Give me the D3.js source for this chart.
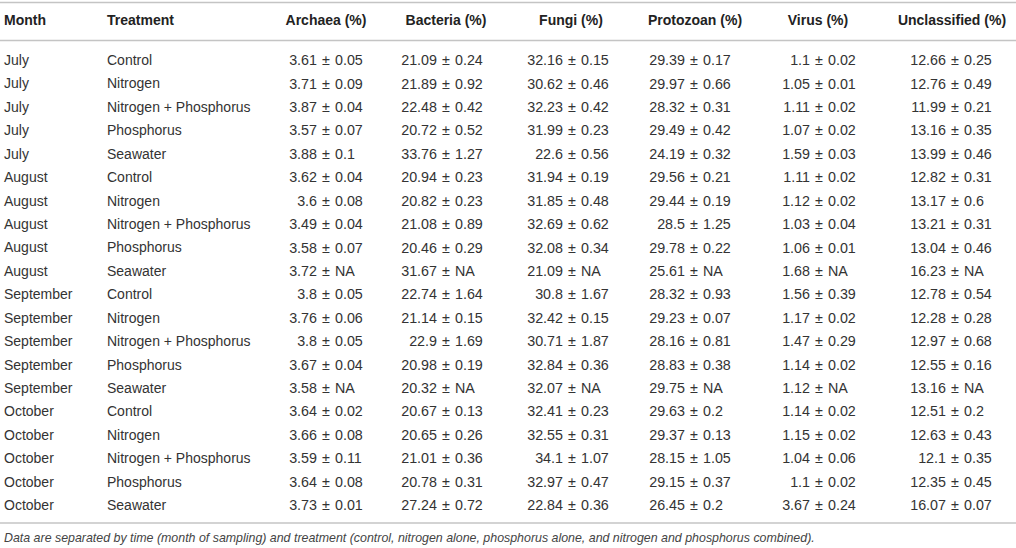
<!DOCTYPE html>
<html>
<head>
<meta charset="utf-8">
<script src="https://cdn.jsdelivr.net/npm/d3@7"></script>
<style>
  body { margin: 0; background: #fff; }
  svg { display: block; font-family: "Liberation Sans", Arial, Helvetica, sans-serif; }
  .cell { font-size: 14px; fill: #333; }
  .num { font-size: 14.3px; fill: #333; }
  .head { font-size: 14px; font-weight: bold; fill: #222; }
  .note { font-size: 12.4px; font-style: italic; fill: #444; }
</style>
</head>
<body>
<div id="chart"></div>
<script>
// --- dati della tabella ---
const headers = ["Month", "Treatment", "Archaea (%)", "Bacteria (%)", "Fungi (%)", "Protozoan (%)", "Virus (%)", "Unclassified (%)"];

const months = ["July", "July", "July", "July", "July",
  "August", "August", "August", "August", "August",
  "September", "September", "September", "September", "September",
  "October", "October", "October", "October", "October"];

const treatments = ["Control", "Nitrogen", "Nitrogen + Phosphorus", "Phosphorus", "Seawater",
  "Control", "Nitrogen", "Nitrogen + Phosphorus", "Phosphorus", "Seawater",
  "Control", "Nitrogen", "Nitrogen + Phosphorus", "Phosphorus", "Seawater",
  "Control", "Nitrogen", "Nitrogen + Phosphorus", "Phosphorus", "Seawater"];

// null = NA
const archaeaMean = [3.61, 3.71, 3.87, 3.57, 3.88, 3.62, 3.6, 3.49, 3.58, 3.72, 3.8, 3.76, 3.8, 3.67, 3.58, 3.64, 3.66, 3.59, 3.64, 3.73];
const archaeaSd = [0.05, 0.09, 0.04, 0.07, 0.1, 0.04, 0.08, 0.04, 0.07, null, 0.05, 0.06, 0.05, 0.04, null, 0.02, 0.08, 0.11, 0.08, 0.01];

const bacteriaMean = [21.09, 21.89, 22.48, 20.72, 33.76, 20.94, 20.82, 21.08, 20.46, 31.67, 22.74, 21.14, 22.9, 20.98, 20.32, 20.67, 20.65, 21.01, 20.78, 27.24];
const bacteriaSd = [0.24, 0.92, 0.42, 0.52, 1.27, 0.23, 0.23, 0.89, 0.29, null, 1.64, 0.15, 1.69, 0.19, null, 0.13, 0.26, 0.36, 0.31, 0.72];

const fungiMean = [32.16, 30.62, 32.23, 31.99, 22.6, 31.94, 31.85, 32.69, 32.08, 21.09, 30.8, 32.42, 30.71, 32.84, 32.07, 32.41, 32.55, 34.1, 32.97, 22.84];
const fungiSd = [0.15, 0.46, 0.42, 0.23, 0.56, 0.19, 0.48, 0.62, 0.34, null, 1.67, 0.15, 1.87, 0.36, null, 0.23, 0.31, 1.07, 0.47, 0.36];

const protozoanMean = [29.39, 29.97, 28.32, 29.49, 24.19, 29.56, 29.44, 28.5, 29.78, 25.61, 28.32, 29.23, 28.16, 28.83, 29.75, 29.63, 29.37, 28.15, 29.15, 26.45];
const protozoanSd = [0.17, 0.66, 0.31, 0.42, 0.32, 0.21, 0.19, 1.25, 0.22, null, 0.93, 0.07, 0.81, 0.38, null, 0.2, 0.13, 1.05, 0.37, 0.2];

const virusMean = [1.1, 1.05, 1.11, 1.07, 1.59, 1.11, 1.12, 1.03, 1.06, 1.68, 1.56, 1.17, 1.47, 1.14, 1.12, 1.14, 1.15, 1.04, 1.1, 3.67];
const virusSd = [0.02, 0.01, 0.02, 0.02, 0.03, 0.02, 0.02, 0.04, 0.01, null, 0.39, 0.02, 0.29, 0.02, null, 0.02, 0.02, 0.06, 0.02, 0.24];

const unclassifiedMean = [12.66, 12.76, 11.99, 13.16, 13.99, 12.82, 13.17, 13.21, 13.04, 16.23, 12.78, 12.28, 12.97, 12.55, 13.16, 12.51, 12.63, 12.1, 12.35, 16.07];
const unclassifiedSd = [0.25, 0.49, 0.21, 0.35, 0.46, 0.31, 0.6, 0.31, 0.46, null, 0.54, 0.28, 0.68, 0.16, null, 0.2, 0.43, 0.35, 0.45, 0.07];

const caption = "Data are separated by time (month of sampling) and treatment (control, nitrogen alone, phosphorus alone, and nitrogen and phosphorus combined).";

// colonne numeriche (media, deviazione)
const valueCols = [
  [archaeaMean, archaeaSd], [bacteriaMean, bacteriaSd], [fungiMean, fungiSd],
  [protozoanMean, protozoanSd], [virusMean, virusSd], [unclassifiedMean, unclassifiedSd]
];

// --- layout ---
const width = 1016, height = 548;
const textX = [4, 107];                        // colonne di testo (allineate a sinistra)
const pmX = [326, 446, 572, 694, 819, 955];    // posizione del segno ± in ogni colonna
const headX = [326, 446, 571, 695, 818, 952];  // centro delle intestazioni
const pmGap = 9;
const headY = 20, firstRowY = 60, lastRowY = 505;
const lineColor = "#c4c4c4";

const svg = d3.select("#chart").append("svg")
  .attr("width", width)
  .attr("height", height);

const y = d3.scaleLinear()
  .domain([0, months.length - 1])
  .range([firstRowY, lastRowY]);

// linee orizzontali
[2.5, 40.5, 523].forEach(ly => {
  svg.append("line")
    .attr("x1", 0).attr("x2", width)
    .attr("y1", ly).attr("y2", ly)
    .attr("stroke", lineColor)
    .attr("stroke-width", 1.5);
});

// intestazione
svg.selectAll(".head")
  .data(headers)
  .enter().append("text")
  .attr("class", "head")
  .attr("x", (d, i) => i < 2 ? textX[i] : headX[i - 2])
  .attr("y", headY)
  .attr("dy", "0.36em")
  .attr("text-anchor", (d, i) => i < 2 ? "start" : "middle")
  .text(d => d);

// colonne di testo
[months, treatments].forEach((col, c) => {
  svg.selectAll(".txt" + c)
    .data(col)
    .enter().append("text")
    .attr("class", "cell txt" + c)
    .attr("x", textX[c])
    .attr("y", (d, i) => y(i))
    .attr("dy", "0.36em")
    .text(d => d);
});

// colonne numeriche, allineate sul segno ±
valueCols.forEach(([means, sds], c) => {
  const g = svg.append("g").attr("class", "col" + c);
  const cx = pmX[c];
  means.forEach((m, i) => {
    const row = g.append("g").attr("transform", `translate(${cx},${y(i)})`);
    row.append("text").attr("class", "num")
      .attr("x", -pmGap).attr("dy", "0.36em")
      .attr("text-anchor", "end")
      .text(String(m));
    row.append("text").attr("class", "num")
      .attr("x", 0).attr("dy", "0.36em")
      .attr("text-anchor", "middle")
      .text("±");
    row.append("text").attr("class", "num")
      .attr("x", pmGap).attr("dy", "0.36em")
      .attr("text-anchor", "start")
      .text(sds[i] === null ? "NA" : String(sds[i]));
  });
});

// nota in fondo
svg.append("text")
  .attr("class", "note")
  .attr("x", 4)
  .attr("y", 538)
  .attr("dy", "0.36em")
  .text(caption);
</script>
</body>
</html>
